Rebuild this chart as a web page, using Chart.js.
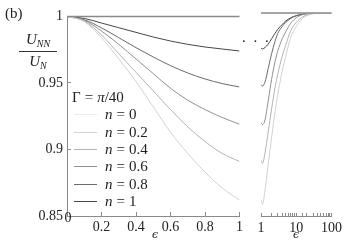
<!DOCTYPE html>
<html>
<head>
<meta charset="utf-8">
<script src="https://cdn.jsdelivr.net/npm/chart.js@4"></script>
<style>
  body { margin: 0; background: #fff; }
  #wrap { position: relative; width: 349px; height: 244px; font-family: 'Liberation Serif', serif; color: #222; }
  canvas { position: absolute; top: 0; }
  .txt { position: absolute; white-space: nowrap; line-height: 1; }
  #frac { position: absolute; left: 19px; top: 32px; width: 38px; text-align: center; font-size: 15px; line-height: 1; }
  #frac .bar { border-top: 1px solid #333; margin: 2px 0 2px 0; }
  #frac sub { font-size: 10px; vertical-align: -3px; }
  #legend { position: absolute; left: 72px; top: 89px; font-size: 15px; line-height: 1; }
  #legend .row { display: flex; align-items: center; height: 17.3px; }
  #legend .swatch { width: 23px; height: 0; border-top: 1px solid; margin: 0 8px 0 2px; }
  .eps { font-family: 'DejaVu Serif', serif; font-style: italic; font-size: 11px; }
</style>
</head>
<body>
<div id="wrap">
  <canvas id="left" width="250" height="244" style="left:0"></canvas>
  <canvas id="right" width="99" height="244" style="left:250px"></canvas>
  <div class="txt" style="left:5px; top:6px; font-size:15px;">(b)</div>
  <div id="frac"><div><i>U</i><sub><i>NN</i></sub></div><div class="bar"></div><div><i>U</i><sub><i>N</i></sub></div></div>
  <div id="legend"></div>
  <div class="txt" style="left:242px; top:30px; font-size:15px; letter-spacing:2px;">. . .</div>
  <div class="txt eps" style="left:152px; top:229px;">ϵ</div>
  <div class="txt eps" style="left:293px; top:229px;">ϵ</div>
</div>
<script>
// series: n = 0, 0.2, 0.4, 0.6, 0.8, 1 (Gamma = pi/40)
const seriesLabels = ['0', '0.2', '0.4', '0.6', '0.8', '1'];
const seriesColors = ['#ebebeb', '#d2d2d2', '#b3b3b3', '#919191', '#6b6b6b', '#474747'];

// left panel, linear epsilon 0..1
const epsLin = [0, 0.1, 0.2, 0.3, 0.4, 0.5, 0.6, 0.7, 0.8, 0.9, 1];
const linN0  = [1, 1, 1, 1, 1, 1, 1, 1, 1, 1, 1];
const linN02 = [1, 0.996, 0.984, 0.968, 0.951, 0.932, 0.913, 0.897, 0.883, 0.871, 0.862];
const linN04 = [1, 0.9965, 0.986, 0.972, 0.958, 0.944, 0.930, 0.917, 0.906, 0.897, 0.891];
const linN06 = [1, 0.997, 0.989, 0.979, 0.968, 0.957, 0.946, 0.937, 0.930, 0.924, 0.919];
const linN08 = [1, 0.9975, 0.9914, 0.984, 0.9765, 0.9695, 0.963, 0.9575, 0.953, 0.9495, 0.947];
const linN1  = [1, 0.9985, 0.995, 0.9915, 0.988, 0.9845, 0.9815, 0.979, 0.977, 0.9755, 0.974];

// right panel, log epsilon 1..100
const epsLog = [1, 1.1, 1.3, 1.6, 2, 2.5, 3, 4, 5, 7, 10, 15, 20, 30, 50, 100];
const logN0  = [1, 1, 1, 1, 1, 1, 1, 1, 1, 1, 1, 1, 1, 1, 1, 1];
const logN02 = [0.862, 0.8585, 0.869, 0.888, 0.908, 0.927, 0.940, 0.957, 0.968, 0.982, 0.990, 0.996, 0.998, 0.9994, 1, 1];
const logN04 = [0.891, 0.889, 0.8965, 0.912, 0.929, 0.945, 0.955, 0.968, 0.976, 0.987, 0.993, 0.997, 0.9985, 0.9996, 1, 1];
const logN06 = [0.919, 0.9175, 0.921, 0.935, 0.951, 0.964, 0.972, 0.981, 0.986, 0.9925, 0.9965, 0.9988, 0.9996, 1, 1, 1];
const logN08 = [0.947, 0.946, 0.949, 0.959, 0.970, 0.979, 0.985, 0.990, 0.993, 0.996, 0.998, 0.9993, 0.9997, 1, 1, 1];
const logN1  = [0.974, 0.9735, 0.9745, 0.977, 0.981, 0.985, 0.988, 0.9915, 0.994, 0.9965, 0.998, 0.999, 0.9995, 0.9999, 1, 1];

const yTicks = [0.85, 0.9, 0.95, 1];
const linTicks = [0, 0.2, 0.4, 0.6, 0.8, 1];
const logTicks = [1, 10, 100];

const linSeries = [linN0, linN02, linN04, linN06, linN08, linN1];
const logSeries = [logN0, logN02, logN04, logN06, logN08, logN1];

const axisGray = '#8a8a8a';
const tickFont = { family: 'Liberation Serif', size: 14 };

function makeDatasets(xs, series) {
  return series.map((vals, i) => ({
    label: 'n = ' + seriesLabels[i],
    data: xs.map((x, j) => ({ x: x, y: vals[j] })),
    borderColor: seriesColors[i],
    borderWidth: 1,
    pointRadius: 0,
    cubicInterpolationMode: 'monotone',
    fill: false
  }));
}

// thin line along the top of each plot area
const topLine = {
  id: 'topLine',
  afterDatasetsDraw(chart) {
    const { ctx, chartArea } = chart;
    ctx.save();
    ctx.strokeStyle = axisGray;
    ctx.lineWidth = 1.5;
    ctx.beginPath();
    ctx.moveTo(chartArea.left, chartArea.top);
    ctx.lineTo(chartArea.right, chartArea.top);
    ctx.stroke();
    ctx.restore();
  }
};

// the "0" x label sits raised next to 0.85, as in the original
const zeroLabel = {
  id: 'zeroLabel',
  afterDraw(chart) {
    const { ctx, chartArea } = chart;
    const x = chart.scales.x.getPixelForValue(0);
    ctx.save();
    ctx.font = '14px "Liberation Serif"';
    ctx.fillStyle = '#222';
    ctx.textAlign = 'center';
    ctx.textBaseline = 'middle';
    ctx.fillText('0', x + 1, chartArea.bottom + 2);
    ctx.restore();
  }
};

const gridOpts = { drawOnChartArea: false, tickLength: -4, color: axisGray };
const borderOpts = { color: axisGray, width: 1 };

new Chart(document.getElementById('left'), {
  type: 'line',
  data: { datasets: makeDatasets(epsLin, linSeries) },
  options: {
    responsive: false,
    animation: false,
    layout: { padding: { top: 13, right: 10, left: 0, bottom: 0 } },
    plugins: { legend: { display: false }, tooltip: { enabled: false } },
    scales: {
      x: {
        type: 'linear', min: 0, max: 1,
        afterFit: (s) => { s.height = 28; },
        afterBuildTicks: (s) => { s.ticks = linTicks.map((v) => ({ value: v })); },
        ticks: { padding: 7, color: '#222', font: tickFont, maxRotation: 0,
          callback: (v) => (v === 0 ? '' : String(+v.toFixed(1))) },
        grid: gridOpts, border: borderOpts
      },
      y: {
        min: 0.85, max: 1,
        afterFit: (s) => { s.width = 67; },
        afterBuildTicks: (s) => { s.ticks = yTicks.map((v) => ({ value: v })); },
        ticks: { padding: 8, color: '#222', font: tickFont, callback: (v) => String(+v.toFixed(2)) },
        grid: gridOpts, border: borderOpts
      }
    }
  },
  plugins: [topLine, zeroLabel]
});

new Chart(document.getElementById('right'), {
  type: 'line',
  data: { datasets: makeDatasets(epsLog, logSeries) },
  options: {
    responsive: false,
    animation: false,
    layout: { padding: { top: 13, right: 17, left: 11, bottom: 0 } },
    plugins: { legend: { display: false }, tooltip: { enabled: false } },
    scales: {
      x: {
        type: 'logarithmic', min: 1, max: 100,
        afterFit: (s) => { s.height = 28; },
        ticks: { padding: 7, color: '#222', font: tickFont, autoSkip: false, maxRotation: 0,
          callback: (v) => (logTicks.includes(Math.round(v)) && Math.abs(v - Math.round(v)) < 1e-9 ? String(Math.round(v)) : '') },
        grid: { drawOnChartArea: false, tickLength: -3, color: axisGray }, border: borderOpts
      },
      y: { display: false, min: 0.85, max: 1 }
    }
  },
  plugins: [topLine]
});

// legend built from the same series arrays
const legendEl = document.getElementById('legend');
legendEl.innerHTML = '<div class="row">Γ<span style="margin:0 4px">=</span><i>π</i>/40</div>' +
  seriesLabels.map((n, i) => `
    <div class="row"><span class="swatch" style="border-color:${seriesColors[i]}"></span><i>n</i><span style="margin:0 4px">=</span>${n}</div>`
  ).join('');
</script>
</body>
</html>
